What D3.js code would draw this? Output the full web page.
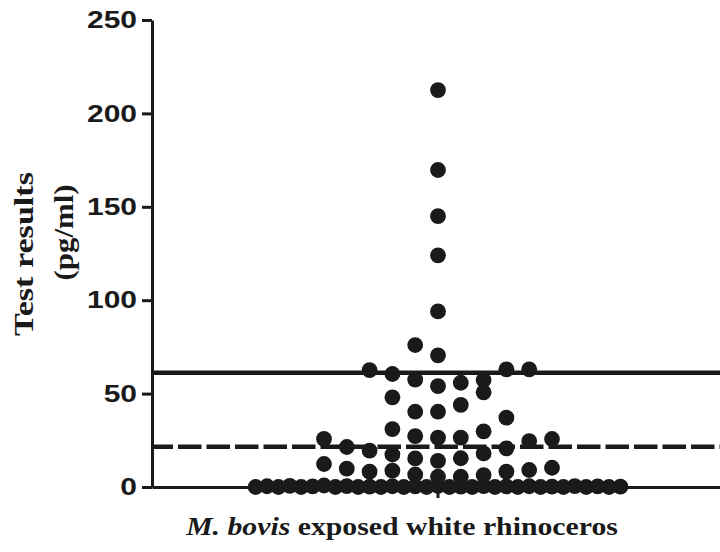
<!DOCTYPE html>
<html>
<head>
<meta charset="utf-8">
<script src="https://cdn.jsdelivr.net/npm/d3@7"></script>
<style>
  html, body { margin: 0; padding: 0; background: #ffffff; }
  svg { display: block; }
</style>
</head>
<body>
<svg id="chart" width="720" height="552"></svg>
<script>
// ---- data -------------------------------------------------------------
const category = "M. bovis exposed white rhinoceros";
const yTickValues = [0, 50, 100, 150, 200, 250];
const cutoffValues = [61.2, 21.6];            // upper (solid) and lower (dashed) cut-offs

// Results (pg/ml), grouped by value band, listed in table order within each band
const bandBelowDetection = [
  0, 0.4, 0, 0.6, 0, 0.3, 0.8, 0, 0.5, 0, 0.2, 0,
  0.4, 0, 0.3, 0, 0.6, 0, 0.2, 0, 0.5, 0, 0.3, 0,
  0.4, 0, 0.2, 0, 0.5, 0, 0.3, 0, 0.2
];
const band1 = [5.5, 5.5, 6.7, 6.4, 8.8, 8.2, 8.2, 9.1, 9.8, 10.3, 12.3];
const band2 = [14, 15.3, 15.4, 17.4, 18, 19.5, 20.7, 21.4];
const band3 = [26.4, 26.4, 27.2, 29.8, 31, 24.6, 25.7, 25.8, 37.1];
const band4 = [40.3, 40.3, 44, 48, 50.7];
const band5 = [54, 55.8, 57.5, 57.3, 60.5, 63, 62.6, 63];
const band6 = [70.5, 76];
const highResults = [94, 124, 145, 169.7, 212.5];

// ---- layout -----------------------------------------------------------
const W = 720, H = 552;
const margin = { left: 152, top: 20, bottom: 65 };
const plotBottom = H - margin.bottom;   // y of value 0
const ink = "#1a1a1a";

const svg = d3.select("#chart");

const y = d3.scaleLinear().domain([0, 250]).range([plotBottom, margin.top]);
const x = d3.scaleBand().domain([category]).range([margin.left, W + 4]).padding(0);
const xCenter = x(category) + x.bandwidth() / 2;

// swarm lanes: one lane = symbol spacing
const laneStep = 22.8;
const maxLane = 8;
const minGap = 6.5;            // minimum separation (pg/ml) between symbols sharing a lane
const lane = d3.scaleLinear().domain([-1, 1]).range([-laneStep, laneStep]);

const bands = [bandBelowDetection, band1, band2, band3, band4, band5, band6]
  .concat(highResults.map(v => [v]));

const laneContents = new Map();
const points = [];
bands.forEach((band, b) => {
  if (band.length > 2 * maxLane + 1) {
    // too many to fit side by side: squeeze evenly across the full lane width
    const squeeze = d3.scaleLinear().domain([0, band.length - 1]).range([-maxLane, maxLane]);
    band.forEach((v, i) => points.push({ value: v, lane: squeeze(i) }));
    return;
  }
  const first = b % 2 ? 1 : -1;        // alternate the starting side band by band
  const order = [0];
  for (let k = 1; k <= maxLane; k++) order.push(first * k, -first * k);
  const used = new Set();
  band.forEach(v => {
    const l = order.find(c => !used.has(c) &&
      !(laneContents.get(c) || []).some(u => Math.abs(u - v) < minGap));
    used.add(l);
    if (!laneContents.has(l)) laneContents.set(l, []);
    laneContents.get(l).push(v);
    points.push({ value: v, lane: l });
  });
});

// ---- axes -------------------------------------------------------------
const yAxis = d3.axisLeft(y).tickValues(yTickValues).tickSize(10).tickSizeOuter(0).tickPadding(5);
const gy = svg.append("g").attr("transform", `translate(${margin.left},0)`).call(yAxis);
gy.select(".domain").attr("stroke", ink).attr("stroke-width", 3);
gy.selectAll(".tick line").attr("stroke", ink).attr("stroke-width", 3);
const tickStretch = 1.25;
gy.selectAll(".tick text")
  .attr("fill", ink)
  .style("font-family", "'Liberation Sans', Arial, sans-serif")
  .style("font-weight", "bold")
  .style("font-size", "24px")
  .attr("x", -15 / tickStretch)
  .attr("transform", `scale(${tickStretch},1)`);

const xAxis = d3.axisBottom(x).tickSize(11).tickSizeOuter(0).tickFormat("");
const gx = svg.append("g").attr("transform", `translate(0,${plotBottom})`).call(xAxis);
gx.select(".domain").attr("stroke", ink).attr("stroke-width", 3);
gx.selectAll(".tick line").attr("stroke", ink).attr("stroke-width", 3)
  .attr("transform", `translate(${xCenter - x(category) - x.bandwidth() / 2},0)`);

// ---- cut-off lines ----------------------------------------------------
svg.append("g").selectAll("line")
  .data(cutoffValues)
  .join("line")
  .attr("x1", margin.left)
  .attr("x2", W)
  .attr("y1", d => y(d))
  .attr("y2", d => y(d))
  .attr("stroke", ink)
  .attr("stroke-width", 4.5)
  .attr("stroke-dasharray", (d, i) => i === 1 ? "23.5,5" : null)
  .attr("stroke-dashoffset", (d, i) => i === 1 ? 2.5 : null);

// ---- points -----------------------------------------------------------
svg.append("g").selectAll("circle")
  .data(points)
  .join("circle")
  .attr("cx", d => xCenter + lane(d.lane))
  .attr("cy", d => y(d.value))
  .attr("r", 7.9)
  .attr("fill", ink);

// ---- titles -----------------------------------------------------------
function stretchTo(sel, target, base) {
  const len = sel.node().getComputedTextLength();
  sel.attr("transform", `${base} scale(${target / len},1)`);
}

const serif = "'Liberation Serif', 'Times New Roman', serif";

const yt1 = svg.append("text")
  .attr("text-anchor", "middle")
  .attr("fill", ink)
  .style("font-family", serif).style("font-weight", "bold").style("font-size", "27px")
  .text("Test results");
stretchTo(yt1, 164, "translate(33,254) rotate(-90)");

const yt2 = svg.append("text")
  .attr("text-anchor", "middle")
  .attr("fill", ink)
  .style("font-family", serif).style("font-weight", "bold").style("font-size", "27px")
  .text("(pg/ml)");
stretchTo(yt2, 96, "translate(73,232.5) rotate(-90)");

const xt = svg.append("text")
  .attr("text-anchor", "middle")
  .attr("fill", ink)
  .style("font-family", serif).style("font-weight", "bold").style("font-size", "25.5px");
xt.append("tspan").style("font-style", "italic").text("M. bovis");
xt.append("tspan").text(" exposed white rhinoceros");
stretchTo(xt, 432, "translate(402,535)");
</script>
</body>
</html>
